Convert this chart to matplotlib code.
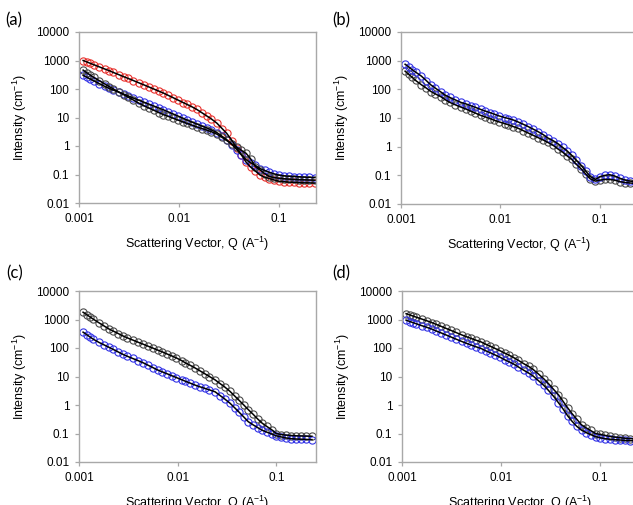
import matplotlib
matplotlib.use('Agg')
import matplotlib.pyplot as plt
from matplotlib.ticker import FixedLocator, FixedFormatter, NullLocator

plt.rcParams['font.family'] = ['Liberation Sans', 'DejaVu Sans']
plt.rcParams['mathtext.fontset'] = 'custom'
plt.rcParams['mathtext.rm'] = 'Liberation Sans'
plt.rcParams['mathtext.it'] = 'Liberation Sans:italic'

# ---------------- data ----------------
Q = [0.0011, 0.0012, 0.0013, 0.0014, 0.0016, 0.0018, 0.002, 0.0022, 0.0025, 0.0028,
     0.0031, 0.0035, 0.004, 0.0045, 0.005, 0.0056, 0.0063, 0.007, 0.0078, 0.0087,
     0.0097, 0.011, 0.012, 0.0135, 0.015, 0.017, 0.019, 0.021, 0.024, 0.027,
     0.03, 0.034, 0.038, 0.042, 0.047, 0.052, 0.058, 0.065, 0.072, 0.08,
     0.09, 0.1, 0.112, 0.125, 0.14, 0.16, 0.18, 0.2, 0.23]

a_red = [1000, 887, 794, 717, 596, 507, 442, 382, 319, 271, 235, 198, 163, 138, 118, 100,
         84, 72, 60, 50, 41.5, 33.5, 29, 23.7, 19.4, 14.6, 11.3, 9.0, 6.3, 4.1, 2.8, 1.53,
         0.85, 0.50, 0.27, 0.184, 0.133, 0.095, 0.081, 0.072, 0.064, 0.058, 0.056, 0.054,
         0.053, 0.052, 0.051, 0.051, 0.050]
a_blue = [300, 257, 223, 196, 154, 125, 105, 92, 77, 66, 57, 48, 40, 34, 29.5, 25.3, 21.5,
          18.6, 15.8, 13.4, 11.4, 9.4, 8.2, 6.9, 6.0, 5.0, 4.3, 3.7, 2.94, 2.19, 1.68, 1.11,
          0.75, 0.50, 0.33, 0.26, 0.21, 0.16, 0.139, 0.12, 0.105, 0.095, 0.09, 0.087, 0.085,
          0.083, 0.081, 0.080, 0.078]
a_black = [460, 370, 305, 255, 195, 152, 122, 101, 79, 63, 52, 41, 31.4, 25.5, 21.5, 18,
           14.8, 12.6, 11, 9.5, 8.2, 7.0, 6.25, 5.4, 4.7, 4.1, 3.6, 3.2, 2.6, 2.0, 1.56, 1.17,
           0.9, 0.71, 0.55, 0.36, 0.19, 0.143, 0.108, 0.085, 0.078, 0.074, 0.071, 0.069,
           0.067, 0.066, 0.065, 0.064, 0.063]

b_blue = [750, 600, 480, 400, 290, 200, 142, 112, 82, 62, 52, 43, 35, 31, 27, 23.5, 20,
          17.5, 15.5, 13.5, 11.8, 10.4, 9.6, 8.5, 7.3, 6.0, 5.0, 4.2, 3.3, 2.6, 2.0, 1.6,
          1.25, 0.95, 0.7, 0.5, 0.33, 0.22, 0.14, 0.09, 0.072, 0.09, 0.1, 0.105, 0.095,
          0.078, 0.068, 0.063, 0.06]
b_black = [430, 330, 260, 205, 145, 110, 84, 70, 56, 43, 35, 29, 24, 20.5, 17.5, 14.8,
           12.4, 11, 9.6, 8.3, 7.3, 6.4, 5.8, 5.0, 4.4, 3.6, 3.0, 2.55, 2.05, 1.7, 1.4, 1.1,
           0.82, 0.65, 0.47, 0.36, 0.24, 0.165, 0.11, 0.075, 0.063, 0.068, 0.072, 0.072,
           0.068, 0.06, 0.056, 0.054, 0.052]

c_black = [1800, 1470, 1215, 1020, 760, 590, 470, 400, 321, 264, 226, 191, 158, 135, 116,
           99.5, 84, 73, 62, 53, 45, 36, 30, 24.4, 20, 15.5, 12.3, 10.0, 7.6, 5.6, 4.3, 3.0,
           2.05, 1.46, 0.99, 0.69, 0.48, 0.32, 0.23, 0.178, 0.135, 0.1, 0.092, 0.088, 0.085,
           0.083, 0.082, 0.081, 0.08]
c_blue = [360, 292, 240, 202, 156, 128, 107, 91, 72.5, 59.5, 51, 43, 35.7, 30, 25, 20.6,
          16.8, 14.5, 12.5, 10.7, 9.2, 7.7, 6.8, 5.8, 5.0, 4.3, 3.8, 3.4, 2.9, 2.14, 1.63,
          1.15, 0.79, 0.56, 0.376, 0.26, 0.203, 0.16, 0.13, 0.112, 0.096, 0.083, 0.076,
          0.07, 0.066, 0.064, 0.063, 0.062, 0.061]

d_black = [1600, 1443, 1312, 1200, 1024, 891, 780, 681, 569, 484, 418, 351, 289, 247, 216,
           187, 163, 136, 115, 96.5, 81, 65, 56.5, 45.5, 36.6, 28, 22.5, 17.9, 12, 8.3, 5.7,
           3.5, 2.28, 1.39, 0.8, 0.5, 0.32, 0.2, 0.159, 0.128, 0.1, 0.093, 0.086, 0.079,
           0.075, 0.071, 0.068, 0.066, 0.065]
d_blue = [950, 850, 770, 705, 600, 525, 460, 400, 335, 285, 246, 206, 170, 145, 127, 110,
          96, 80, 68, 57, 48, 38, 33, 27, 21.5, 16.5, 13.2, 10.5, 7.0, 4.9, 3.3, 2.0, 1.2,
          0.75, 0.42, 0.27, 0.18, 0.13, 0.108, 0.092, 0.078, 0.071, 0.066, 0.063, 0.061,
          0.059, 0.057, 0.056, 0.055]

x_ticks = [0.001, 0.01, 0.1]
x_tick_labels = ['0.001', '0.01', '0.1']
y_ticks = [0.01, 0.1, 1, 10, 100, 1000, 10000]
y_tick_labels = ['0.01', '0.1', '1', '10', '100', '1000', '10000']
panel_labels = ['(a)', '(b)', '(c)', '(d)']
x_label = 'Scattering Vector, Q (A$^{-1}$)'
y_label = 'Intensity (cm$^{-1}$)'

# ---------------- styling ----------------
RED = '#e8322e'
BLUE = '#3333e6'
GREY = '#4a4a4a'
SPINE = '#a8a8a8'

W, H = 633, 505
fig = plt.figure(figsize=(W / 100, H / 100), dpi=100)


def add_axes_px(left, top, right, bottom):
    return fig.add_axes([left / W, 1 - bottom / H, (right - left) / W, (bottom - top) / H])


panels = [
    dict(rect=(79, 32, 316, 203), xmax=0.235, lab=(5, 20),
         series=[(a_red, RED), (a_blue, BLUE), (a_black, GREY)]),
    dict(rect=(401, 32, 638, 204), xmax=0.241, lab=(332, 20),
         series=[(b_black, GREY), (b_blue, BLUE)]),
    dict(rect=(79, 291, 315.5, 462), xmax=0.25, lab=(6, 273),
         series=[(c_black, GREY), (c_blue, BLUE)]),
    dict(rect=(402, 291, 639, 462), xmax=0.247, lab=(332, 273),
         series=[(d_black, GREY), (d_blue, BLUE)]),
]

for p, lab in zip(panels, panel_labels):
    ax = add_axes_px(*p['rect'])
    for vals, col in p['series']:
        ax.plot(Q, vals, linestyle='none', marker='o', markersize=5.2,
                markerfacecolor='none', markeredgecolor=col, markeredgewidth=0.8,
                clip_on=True)
    for vals, col in p['series']:
        ax.plot(Q, vals, '-', color='black', linewidth=1.1)
    ax.set_xscale('log')
    ax.set_yscale('log')
    ax.set_xlim(0.001, p['xmax'])
    ax.set_ylim(0.01, 10000)
    ax.xaxis.set_major_locator(FixedLocator(x_ticks))
    ax.xaxis.set_major_formatter(FixedFormatter(x_tick_labels))
    ax.yaxis.set_major_locator(FixedLocator(y_ticks))
    ax.yaxis.set_major_formatter(FixedFormatter(y_tick_labels))
    ax.xaxis.set_minor_locator(NullLocator())
    ax.yaxis.set_minor_locator(NullLocator())
    for s in ax.spines.values():
        s.set_color(SPINE)
        s.set_linewidth(1.0)
    ax.tick_params(direction='out', length=3, width=0.9, color=SPINE,
                   labelsize=8.5, pad=4, labelcolor='black')
    ax.set_xlabel(x_label, fontsize=9, labelpad=7)
    ax.set_ylabel(y_label, fontsize=9, labelpad=5)
    fig.text(p['lab'][0] / W, 1 - p['lab'][1] / H, lab, fontsize=12,
             family=['Lato', 'DejaVu Sans'], ha='left', va='center')

fig.savefig('out.png', dpi=100)
